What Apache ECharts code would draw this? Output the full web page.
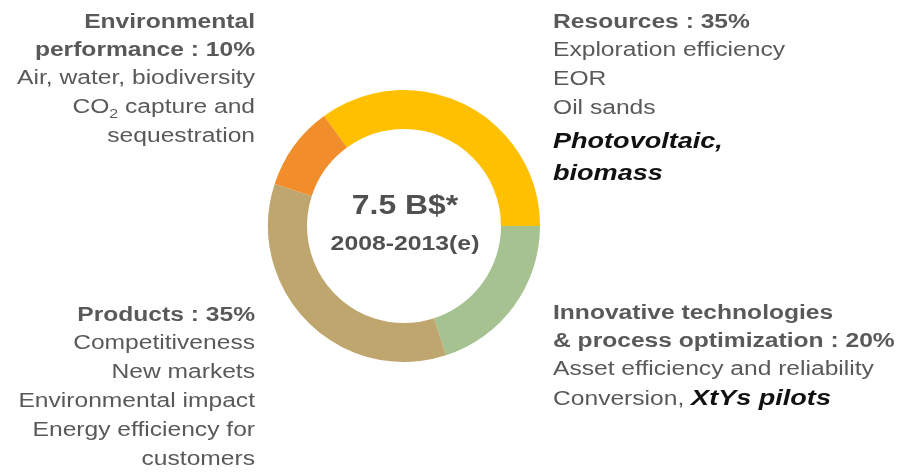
<!DOCTYPE html>
<html>
<head>
<meta charset="utf-8">
<script src="https://cdn.jsdelivr.net/npm/echarts@6/dist/echarts.min.js"></script>
<style>
html,body{margin:0;padding:0;background:#fff;}
#c{width:902px;height:472px;}
</style>
</head>
<body>
<div id="c"></div>
<script>
// ---- data ----
var categories = ['Resources', 'Innovative technologies & process optimization', 'Products', 'Environmental performance'];
var shares = [35, 20, 35, 10];
var sliceColors = ['#FFC000', '#A5C290', '#BFA66F', '#F18D2A'];
var totalLabel = '7.5 B$*';
var periodLabel = '2008-2013(e)';

var resourcesItems = ['Exploration efficiency', 'EOR', 'Oil sands'];
var resourcesHighlight = ['Photovoltaic,', 'biomass'];
var innovItems = ['Asset efficiency and reliability'];
var innovLastPlain = 'Conversion, ';
var innovLastHighlight = 'XtYs pilots';
var productsItems = ['Competitiveness', 'New markets', 'Environmental impact', 'Energy efficiency for', 'customers'];
var envItems = ['Air, water, biodiversity'];
var envCO2 = ['CO', '2', ' capture and'];
var envLast = ['sequestration'];

// ---- styling ----
var FONT = '"Liberation Sans", Arial, sans-serif';
var GRAY = '#595959';
var DARK = '#111111';
var SX = 1.23;

function txt(x, y, text, opts) {
  opts = opts || {};
  var style = {
    text: text,
    fill: opts.color || GRAY,
    font: (opts.italic ? 'italic ' : '') + (opts.weight || 'normal') + ' ' + (opts.size || 20) + 'px ' + FONT,
    fontSize: opts.size || 20,
    fontWeight: opts.weight || 'normal',
    fontStyle: opts.italic ? 'italic' : 'normal',
    fontFamily: FONT,
    textAlign: opts.align || 'left',
    align: opts.align || 'left',
    textVerticalAlign: 'middle',
    verticalAlign: 'middle'
  };
  if (opts.rich) style.rich = opts.rich;
  return { type: 'text', x: x, y: y, scaleX: opts.sx || SX, silent: true, style: style };
}

var g = [];
// Left top: Environmental performance
var envWords = categories[3].split(' ');
g.push(txt(255, 22, envWords[0], {weight: 'bold', align: 'right'}));
g.push(txt(255, 50, envWords[1] + ' : ' + shares[3] + '%', {weight: 'bold', align: 'right'}));
g.push(txt(255, 78, envItems[0], {align: 'right'}));
g.push(txt(255, 107, '{n|' + envCO2[0] + '}{s|' + envCO2[1] + '}{n|' + envCO2[2] + '}', {
  align: 'right',
  rich: {
    n: {fontSize: 20, fontFamily: FONT, fill: GRAY, color: GRAY, lineHeight: 24, verticalAlign: 'middle'},
    s: {fontSize: 13, fontFamily: FONT, fill: GRAY, color: GRAY, lineHeight: 24, verticalAlign: 'bottom', padding: [0, 0, -2, 0]}
  }
}));
g.push(txt(255, 136, envLast[0], {align: 'right'}));

// Right top: Resources
g.push(txt(553, 22, categories[0] + ' : ' + shares[0] + '%', {weight: 'bold'}));
resourcesItems.forEach(function (s, i) { g.push(txt(553, 50 + i * 29, s)); });
g.push(txt(553, 142, resourcesHighlight[0], {weight: 'bold', italic: true, size: 22, color: DARK}));
g.push(txt(553, 174, resourcesHighlight[1], {weight: 'bold', italic: true, size: 22, color: DARK}));

// Right bottom: Innovative technologies
g.push(txt(553, 313, 'Innovative technologies', {weight: 'bold'}));
g.push(txt(553, 341, '& process optimization : ' + shares[1] + '%', {weight: 'bold'}));
g.push(txt(553, 369, innovItems[0]));
g.push(txt(553, 399, '{n|' + innovLastPlain + '}{h|' + innovLastHighlight + '}', {
  rich: {
    n: {fontSize: 20, fontFamily: FONT, fill: GRAY, color: GRAY},
    h: {fontSize: 22, fontFamily: FONT, fill: DARK, color: DARK, fontWeight: 'bold', fontStyle: 'italic'}
  }
}));

// Left bottom: Products
g.push(txt(255, 315, categories[2] + ' : ' + shares[2] + '%', {weight: 'bold', align: 'right'}));
productsItems.forEach(function (s, i) { g.push(txt(255, 343 + i * 29, s, {align: 'right'})); });

// Center
g.push(txt(405, 206, totalLabel, {weight: 'bold', size: 28, align: 'center', color: '#505050', sx: 1.14}));
g.push(txt(405, 244, periodLabel, {weight: 'bold', size: 21, align: 'center', color: '#505050', sx: 1.18}));

var chart = echarts.init(document.getElementById('c'), null, {renderer: 'canvas'});
chart.setOption({
  animation: false,
  backgroundColor: '#ffffff',
  series: [{
    type: 'pie',
    center: [404, 226],
    radius: [97, 136],
    startAngle: 126,
    clockwise: true,
    silent: true,
    label: {show: false},
    labelLine: {show: false},
    itemStyle: {borderWidth: 0},
    data: categories.map(function (c, i) {
      return {name: c, value: shares[i], itemStyle: {color: sliceColors[i]}};
    })
  }],
  graphic: g
});
</script>
</body>
</html>
